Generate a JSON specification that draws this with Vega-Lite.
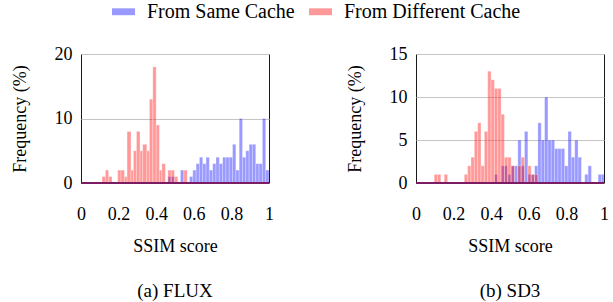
{
  "$schema": "https://vega.github.io/schema/vega-lite/v6.json",
  "background": "white",
  "padding": {"left": 10, "top": 0, "right": 4, "bottom": 0},
  "spacing": 71,
  "datasets": {
    "flux": [
      {"series": "From Same Cache", "x0": 0.462, "x1": 0.48, "pct": 1},
      {"series": "From Same Cache", "x0": 0.48, "x1": 0.497, "pct": 1},
      {"series": "From Same Cache", "x0": 0.529, "x1": 0.547, "pct": 2},
      {"series": "From Same Cache", "x0": 0.577, "x1": 0.5946, "pct": 1},
      {"series": "From Same Cache", "x0": 0.5946, "x1": 0.6123, "pct": 2},
      {"series": "From Same Cache", "x0": 0.6123, "x1": 0.6299, "pct": 3},
      {"series": "From Same Cache", "x0": 0.6299, "x1": 0.6475, "pct": 4},
      {"series": "From Same Cache", "x0": 0.6475, "x1": 0.6651, "pct": 3},
      {"series": "From Same Cache", "x0": 0.6651, "x1": 0.6828, "pct": 4},
      {"series": "From Same Cache", "x0": 0.6828, "x1": 0.7004, "pct": 2},
      {"series": "From Same Cache", "x0": 0.7004, "x1": 0.718, "pct": 3},
      {"series": "From Same Cache", "x0": 0.718, "x1": 0.7356, "pct": 4},
      {"series": "From Same Cache", "x0": 0.7356, "x1": 0.7533, "pct": 3},
      {"series": "From Same Cache", "x0": 0.7533, "x1": 0.7709, "pct": 4},
      {"series": "From Same Cache", "x0": 0.7709, "x1": 0.7885, "pct": 4},
      {"series": "From Same Cache", "x0": 0.7885, "x1": 0.8061, "pct": 4},
      {"series": "From Same Cache", "x0": 0.8061, "x1": 0.8238, "pct": 6},
      {"series": "From Same Cache", "x0": 0.8238, "x1": 0.8414, "pct": 2},
      {"series": "From Same Cache", "x0": 0.8414, "x1": 0.859, "pct": 10},
      {"series": "From Same Cache", "x0": 0.859, "x1": 0.8766, "pct": 4},
      {"series": "From Same Cache", "x0": 0.8766, "x1": 0.8943, "pct": 5},
      {"series": "From Same Cache", "x0": 0.8943, "x1": 0.9119, "pct": 6},
      {"series": "From Same Cache", "x0": 0.9119, "x1": 0.9295, "pct": 6},
      {"series": "From Same Cache", "x0": 0.9295, "x1": 0.9471, "pct": 3},
      {"series": "From Same Cache", "x0": 0.9471, "x1": 0.9648, "pct": 3},
      {"series": "From Same Cache", "x0": 0.9648, "x1": 0.9824, "pct": 10},
      {"series": "From Same Cache", "x0": 0.9824, "x1": 1.0, "pct": 2},
      {"series": "From Different Cache", "x0": 0.112, "x1": 0.13, "pct": 1},
      {"series": "From Different Cache", "x0": 0.13, "x1": 0.147, "pct": 2},
      {"series": "From Different Cache", "x0": 0.147, "x1": 0.165, "pct": 1},
      {"series": "From Different Cache", "x0": 0.195, "x1": 0.213, "pct": 2},
      {"series": "From Different Cache", "x0": 0.213, "x1": 0.231, "pct": 2},
      {"series": "From Different Cache", "x0": 0.231, "x1": 0.245, "pct": 1},
      {"series": "From Different Cache", "x0": 0.245, "x1": 0.266, "pct": 8},
      {"series": "From Different Cache", "x0": 0.266, "x1": 0.279, "pct": 2},
      {"series": "From Different Cache", "x0": 0.279, "x1": 0.295, "pct": 5},
      {"series": "From Different Cache", "x0": 0.295, "x1": 0.314, "pct": 8},
      {"series": "From Different Cache", "x0": 0.314, "x1": 0.328, "pct": 5},
      {"series": "From Different Cache", "x0": 0.328, "x1": 0.35, "pct": 6},
      {"series": "From Different Cache", "x0": 0.35, "x1": 0.364, "pct": 5},
      {"series": "From Different Cache", "x0": 0.364, "x1": 0.382, "pct": 13},
      {"series": "From Different Cache", "x0": 0.382, "x1": 0.4, "pct": 18},
      {"series": "From Different Cache", "x0": 0.4, "x1": 0.417, "pct": 9},
      {"series": "From Different Cache", "x0": 0.417, "x1": 0.43, "pct": 2},
      {"series": "From Different Cache", "x0": 0.43, "x1": 0.449, "pct": 3},
      {"series": "From Different Cache", "x0": 0.462, "x1": 0.48, "pct": 2},
      {"series": "From Different Cache", "x0": 0.48, "x1": 0.497, "pct": 2},
      {"series": "From Different Cache", "x0": 0.497, "x1": 0.515, "pct": 1},
      {"series": "From Different Cache", "x0": 0.547, "x1": 0.565, "pct": 2}
    ],
    "sd3": [
      {"series": "From Same Cache", "x0": 0.417, "x1": 0.4348, "pct": 1},
      {"series": "From Same Cache", "x0": 0.4526, "x1": 0.4704, "pct": 2},
      {"series": "From Same Cache", "x0": 0.4704, "x1": 0.4882, "pct": 2},
      {"series": "From Same Cache", "x0": 0.4882, "x1": 0.506, "pct": 1},
      {"series": "From Same Cache", "x0": 0.506, "x1": 0.5238, "pct": 2},
      {"series": "From Same Cache", "x0": 0.5238, "x1": 0.5416, "pct": 2},
      {"series": "From Same Cache", "x0": 0.5416, "x1": 0.5594, "pct": 5},
      {"series": "From Same Cache", "x0": 0.5594, "x1": 0.5772, "pct": 2},
      {"series": "From Same Cache", "x0": 0.5772, "x1": 0.595, "pct": 6},
      {"series": "From Same Cache", "x0": 0.595, "x1": 0.6128, "pct": 1},
      {"series": "From Same Cache", "x0": 0.6128, "x1": 0.6306, "pct": 1},
      {"series": "From Same Cache", "x0": 0.6306, "x1": 0.6484, "pct": 2},
      {"series": "From Same Cache", "x0": 0.6484, "x1": 0.6662, "pct": 7},
      {"series": "From Same Cache", "x0": 0.6662, "x1": 0.684, "pct": 5},
      {"series": "From Same Cache", "x0": 0.684, "x1": 0.7018, "pct": 10},
      {"series": "From Same Cache", "x0": 0.7018, "x1": 0.7196, "pct": 5},
      {"series": "From Same Cache", "x0": 0.7196, "x1": 0.7374, "pct": 5},
      {"series": "From Same Cache", "x0": 0.7374, "x1": 0.7552, "pct": 4},
      {"series": "From Same Cache", "x0": 0.7552, "x1": 0.773, "pct": 4},
      {"series": "From Same Cache", "x0": 0.773, "x1": 0.7908, "pct": 4},
      {"series": "From Same Cache", "x0": 0.7908, "x1": 0.8086, "pct": 2},
      {"series": "From Same Cache", "x0": 0.8086, "x1": 0.8264, "pct": 6},
      {"series": "From Same Cache", "x0": 0.8264, "x1": 0.8442, "pct": 3},
      {"series": "From Same Cache", "x0": 0.8442, "x1": 0.862, "pct": 5},
      {"series": "From Same Cache", "x0": 0.862, "x1": 0.8798, "pct": 3},
      {"series": "From Same Cache", "x0": 0.8976, "x1": 0.9154, "pct": 1},
      {"series": "From Same Cache", "x0": 0.9154, "x1": 0.9332, "pct": 2},
      {"series": "From Same Cache", "x0": 0.9688, "x1": 0.9866, "pct": 1},
      {"series": "From Same Cache", "x0": 0.9866, "x1": 1.0, "pct": 1},
      {"series": "From Different Cache", "x0": 0.0966, "x1": 0.1144, "pct": 1},
      {"series": "From Different Cache", "x0": 0.1144, "x1": 0.1322, "pct": 1},
      {"series": "From Different Cache", "x0": 0.15, "x1": 0.1678, "pct": 1},
      {"series": "From Different Cache", "x0": 0.2568, "x1": 0.2746, "pct": 1},
      {"series": "From Different Cache", "x0": 0.2746, "x1": 0.2924, "pct": 2},
      {"series": "From Different Cache", "x0": 0.2924, "x1": 0.3102, "pct": 3},
      {"series": "From Different Cache", "x0": 0.3102, "x1": 0.328, "pct": 6},
      {"series": "From Different Cache", "x0": 0.328, "x1": 0.3458, "pct": 7},
      {"series": "From Different Cache", "x0": 0.3458, "x1": 0.3636, "pct": 2},
      {"series": "From Different Cache", "x0": 0.3636, "x1": 0.3814, "pct": 6},
      {"series": "From Different Cache", "x0": 0.3814, "x1": 0.3992, "pct": 13},
      {"series": "From Different Cache", "x0": 0.3992, "x1": 0.417, "pct": 12},
      {"series": "From Different Cache", "x0": 0.417, "x1": 0.4348, "pct": 11},
      {"series": "From Different Cache", "x0": 0.4348, "x1": 0.4526, "pct": 11},
      {"series": "From Different Cache", "x0": 0.4526, "x1": 0.4704, "pct": 8},
      {"series": "From Different Cache", "x0": 0.4704, "x1": 0.4882, "pct": 3},
      {"series": "From Different Cache", "x0": 0.4882, "x1": 0.506, "pct": 3},
      {"series": "From Different Cache", "x0": 0.506, "x1": 0.5238, "pct": 2},
      {"series": "From Different Cache", "x0": 0.5416, "x1": 0.5594, "pct": 2},
      {"series": "From Different Cache", "x0": 0.5594, "x1": 0.5772, "pct": 3},
      {"series": "From Different Cache", "x0": 0.595, "x1": 0.6128, "pct": 2},
      {"series": "From Different Cache", "x0": 0.6128, "x1": 0.6306, "pct": 1},
      {"series": "From Different Cache", "x0": 0.6306, "x1": 0.6484, "pct": 1}
    ]
  },
  "config": {
    "font": "Liberation Serif",
    "view": {"stroke": "#1a1a1a", "strokeWidth": 1},
    "axis": {
      "labelFont": "Liberation Serif",
      "titleFont": "Liberation Serif",
      "labelFontSize": 18,
      "titleFontSize": 18,
      "titleFontWeight": "normal",
      "labelColor": "black",
      "titleColor": "black",
      "domain": false,
      "ticks": false,
      "labelFlush": false,
      "labelOverlap": false
    },
    "axisX": {"grid": false, "labelPadding": 22, "titlePadding": 14},
    "axisY": {"grid": true, "gridColor": "#c4c4c4", "gridWidth": 1, "labelPadding": 9, "titlePadding": 25},
    "title": {"font": "Liberation Serif", "fontSize": 19, "fontWeight": "normal", "color": "black"}
  },
  "hconcat": [
    {
      "width": 188,
      "height": 129,
      "data": {"name": "flux"},
      "title": {"text": "(a) FLUX", "orient": "bottom", "anchor": "middle", "offset": 27},
      "layer": [
        {
          "mark": {"type": "bar", "fillOpacity": 0.4, "stroke": "white", "strokeWidth": 0.5, "strokeOpacity": 0.6, "clip": true},
          "encoding": {
            "x": {"field": "x0", "type": "quantitative", "scale": {"domain": [0, 1], "nice": false}, "axis": {"values": [0, 0.2, 0.4, 0.6, 0.8, 1], "format": "~g", "title": "SSIM score"}},
            "x2": {"field": "x1"},
            "y": {"field": "pct", "type": "quantitative", "scale": {"domain": [0, 20], "nice": false}, "axis": {"values": [0, 5, 10, 15, 20], "title": "Frequency (%)"}},
            "y2": {"datum": 0},
            "color": {
              "field": "series", "type": "nominal",
              "scale": {"domain": ["From Same Cache", "From Different Cache"], "range": ["#0000ff", "#ff0000"]},
              "legend": {"orient": "none", "legendX": 31, "legendY": -54, "direction": "horizontal", "title": null, "symbolType": "M-1,-0.3H1V0.3H-1Z", "symbolSize": 529, "symbolOpacity": 0.4, "symbolStrokeWidth": 0, "labelFontSize": 20, "labelFont": "Liberation Serif", "labelColor": "black", "labelLimit": 0, "columnPadding": 14, "labelOffset": 12}
            }
          }
        },
        {
          "mark": {"type": "rule", "color": "#7d1d63", "strokeWidth": 1.5},
          "encoding": {"y": {"datum": 0, "type": "quantitative"}}
        }
      ]
    },
    {
      "width": 188,
      "height": 129,
      "data": {"name": "sd3"},
      "title": {"text": "(b) SD3", "orient": "bottom", "anchor": "middle", "offset": 27},
      "layer": [
        {
          "mark": {"type": "bar", "fillOpacity": 0.4, "stroke": "white", "strokeWidth": 0.5, "strokeOpacity": 0.6, "clip": true},
          "encoding": {
            "x": {"field": "x0", "type": "quantitative", "scale": {"domain": [0, 1], "nice": false}, "axis": {"values": [0, 0.2, 0.4, 0.6, 0.8, 1], "format": "~g", "title": "SSIM score"}},
            "x2": {"field": "x1"},
            "y": {"field": "pct", "type": "quantitative", "scale": {"domain": [0, 15], "nice": false}, "axis": {"values": [0, 5, 10, 15], "title": "Frequency (%)"}},
            "y2": {"datum": 0},
            "color": {
              "field": "series", "type": "nominal",
              "scale": {"domain": ["From Same Cache", "From Different Cache"], "range": ["#0000ff", "#ff0000"]},
              "legend": {"orient": "none", "legendX": 31, "legendY": -54, "direction": "horizontal", "title": null, "symbolType": "M-1,-0.3H1V0.3H-1Z", "symbolSize": 529, "symbolOpacity": 0.4, "symbolStrokeWidth": 0, "labelFontSize": 20, "labelFont": "Liberation Serif", "labelColor": "black", "labelLimit": 0, "columnPadding": 14, "labelOffset": 12}
            }
          }
        },
        {
          "mark": {"type": "rule", "color": "#7d1d63", "strokeWidth": 1.5},
          "encoding": {"y": {"datum": 0, "type": "quantitative"}}
        }
      ]
    }
  ]
}
